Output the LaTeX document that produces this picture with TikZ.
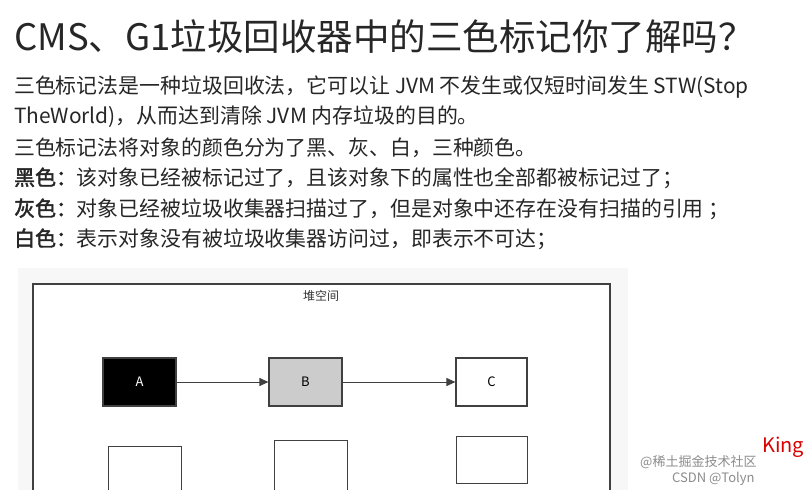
\documentclass[tikz,border=0pt]{standalone}
\usepackage{fontspec}
\setmainfont{Noto Sans CJK SC}[AutoFakeBold=2]
\usetikzlibrary{arrows.meta}
\begin{document}
\begin{tikzpicture}[x=1pt,y=-1pt,
  txt/.style={anchor=west,inner sep=0pt,font=\fontsize{20.9}{22}\selectfont,text=black!85},
  obj/.style={draw=black!75,line width=1.2pt,minimum width=73pt,minimum height=48pt,inner sep=0pt,font=\fontsize{13}{15}\selectfont},
  arr/.style={draw=black!75,line width=1pt,-{Triangle[length=9pt,width=8pt]}}]
\useasboundingbox (0,0) rectangle (809,490);
\fill[white] (0,0) rectangle (809,490);
\node[anchor=west,inner sep=0pt,font=\fontsize{36.5}{38}\selectfont,text=black!85] (title) at (14,37) {CMS、G1垃圾回收器中的三色标记你了解吗？};
\node[txt] (l1) at (14,87) {三色标记法是一种垃圾回收法，它可以让 JVM 不发生或仅短时间发生 STW(Stop};
\node[txt] (l2) at (14,117) {TheWorld)，从而达到清除 JVM 内存垃圾的目的。};
\node[txt] (l3) at (14,148) {三色标记法将对象的颜色分为了黑、灰、白，三种颜色。};
\node[txt] (l4) at (14,178) {\textbf{黑色：}该对象已经被标记过了，且该对象下的属性也全部都被标记过了；};
\node[txt] (l5) at (14,209) {\textbf{灰色：}对象已经被垃圾收集器扫描过了，但是对象中还存在没有扫描的引用 ；};
\node[txt] (l6) at (14,239) {\textbf{白色：}表示对象没有被垃圾收集器访问过，即表示不可达；};
\fill[black!3] (18,268) rectangle (628,490);
\draw[black!75,line width=1.2pt,fill=white] (33,284) rectangle (610,495);
\node[inner sep=0pt,font=\fontsize{12}{14}\selectfont,text=black!80] (heap) at (321,296) {堆空间};
\node[obj,fill=black,text=white] (A) at (139.5,382) {A};
\node[obj,fill=black!20] (B) at (305.5,382) {B};
\node[obj,fill=white,minimum width=71pt] (C) at (491.5,382) {C};
\draw[arr] (A) -- (B);
\draw[arr] (B) -- (C);
\node[obj,fill=white,anchor=north west] (D) at (108,446) {};
\node[obj,fill=white,anchor=north west,minimum height=52pt] (E) at (274,440) {};
\node[obj,fill=white,anchor=north west,minimum width=71pt,minimum height=47pt] (F) at (456,436) {};
\node[anchor=west,inner sep=0pt,font=\fontsize{13}{15}\selectfont,text=black!45] (wm1) at (640,462) {@稀土掘金技术社区};
\node[anchor=west,inner sep=0pt,font=\fontsize{13}{15}\selectfont,text=black!45] (wm2) at (672,479) {CSDN @Tolyn};
\node[anchor=west,inner sep=0pt,font=\fontsize{20}{22}\selectfont,text=red!85!black] (king) at (762,447) {King};
\end{tikzpicture}
\end{document}
